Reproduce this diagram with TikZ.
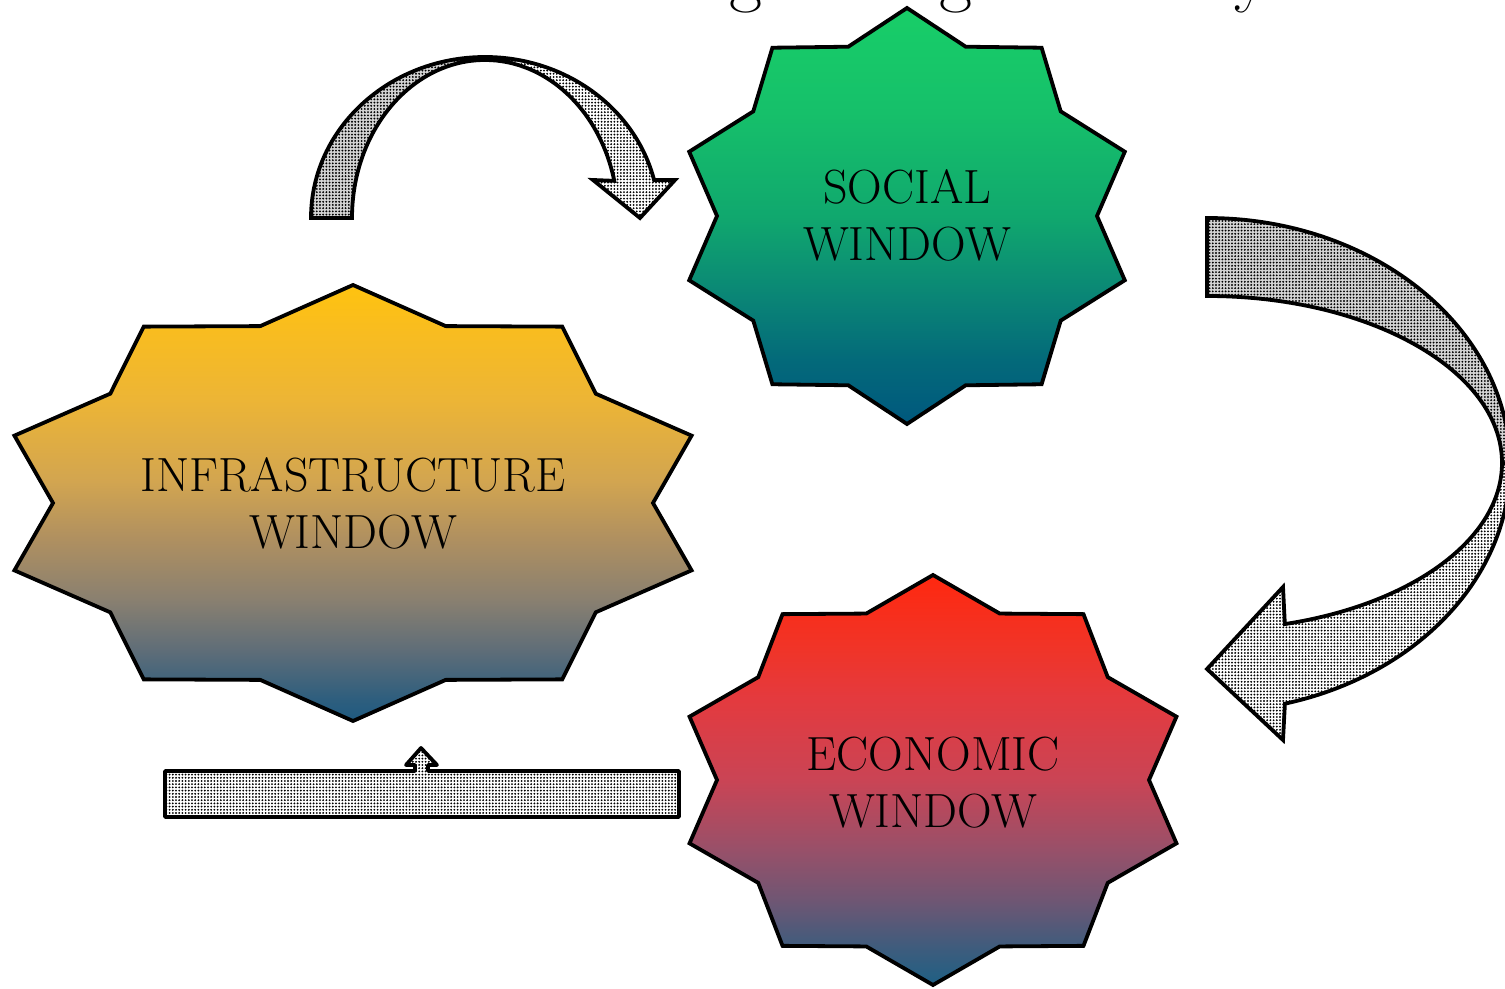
\documentclass[tikz,border=0pt]{standalone}
\usetikzlibrary{patterns.meta}
\pgfdeclareverticalshading{infshade}{100bp}{%
  rgb(0bp)=(.118,.353,.502); rgb(25bp)=(.118,.353,.502);
  rgb(27.5bp)=(.180,.369,.494); rgb(33bp)=(.369,.427,.471);
  rgb(39bp)=(.541,.502,.439); rgb(46bp)=(.690,.565,.376);
  rgb(52.5bp)=(.824,.647,.314); rgb(62bp)=(.929,.710,.208);
  rgb(70.3bp)=(.976,.741,.118); rgb(75bp)=(1,.765,.059);
  rgb(100bp)=(1,.765,.059)}
\pgfdeclareverticalshading{socshade}{100bp}{%
  rgb(0bp)=(0,.345,.494); rgb(25bp)=(0,.345,.494);
  rgb(32.5bp)=(.012,.412,.478); rgb(40bp)=(.039,.518,.463);
  rgb(50bp)=(.063,.659,.431); rgb(62.5bp)=(.086,.753,.416);
  rgb(75bp)=(.094,.808,.408); rgb(100bp)=(.094,.808,.408)}
\pgfdeclareverticalshading{ecoshade}{100bp}{%
  rgb(0bp)=(.118,.376,.518); rgb(25bp)=(.118,.376,.518);
  rgb(29.5bp)=(.243,.361,.490); rgb(35.5bp)=(.439,.337,.451);
  rgb(41.5bp)=(.596,.314,.412); rgb(50bp)=(.792,.267,.333);
  rgb(60bp)=(.894,.227,.243); rgb(66bp)=(.941,.204,.157);
  rgb(75bp)=(1,.157,.059); rgb(100bp)=(1,.157,.059)}
% ten-pointed star: #1 options, #2 cx, #3 cy, #4 Rx, #5 Ry, #6 rx, #7 ry
\newcommand{\tenstar}[7]{%
  \path[#1] ({#2},{#3-#5}) \foreach \a in {-90,-54,...,234}{
     -- ({#2+#6*cos(\a+18)},{#3+#7*sin(\a+18)})
     -- ({#2+#4*cos(\a+36)},{#3+#5*sin(\a+36)})} -- cycle;}
\tikzset{
  starline/.style={draw=black, line width=1.9pt},
  bandline/.style={draw=black, line width=1.9pt},
  darkband/.style={bandline, preaction={fill=black!17},
    pattern={Dots[distance=1.6pt,radius=0.52pt]}, pattern color=black},
  lightband/.style={bandline, preaction={fill=white},
    pattern={Dots[distance=1.6pt,radius=0.52pt]}, pattern color=black},
  lbl/.style={font=\fontsize{24}{28.5}\selectfont, align=center, inner sep=0pt, text=black},
  ttl/.style={font=\fontsize{36}{40}\selectfont, anchor=base, inner sep=0pt}
}
\begin{document}
\begin{tikzpicture}[x=0.5pt,y=-0.5pt]
\useasboundingbox (0,0) rectangle (1505,989);
\clip (0,0) rectangle (1505,989);
\fill[white] (0,0) rectangle (1505,989);

% fragments of the cut-off title
\node[ttl] (t1) at (746,-1) {g};
\node[ttl] (t2) at (956,-1) {g};
\node[ttl] (t3) at (1252,-1) {y};

% top curved arrow (infrastructure -> social)
\path[darkband] (311,218) arc[start angle=180, end angle=270, x radius=174, y radius=161]
   -- (485,60) arc[start angle=270, end angle=180, x radius=133, y radius=158] -- cycle;
\path[lightband] (485,57) arc[start angle=270, end angle=346.4, x radius=174, y radius=161]
   -- (675,180) -- (640,218) -- (593,180)
   -- ({485+133*cos(346.4)},{218+158*sin(346.4)})
   arc[start angle=346.4, end angle=270, x radius=133, y radius=158] -- cycle;

% right curved arrow (social -> economic)
\path[darkband] (1207,218) arc[start angle=-90, end angle=0, x radius=303, y radius=247]
   -- (1502,463) arc[start angle=0, end angle=-90, x radius=295, y radius=167] -- cycle;
\path[lightband] (1510,465) arc[start angle=0, end angle=75.1, x radius=303, y radius=247]
   -- (1283,740) -- (1207,669) -- (1283,587)
   -- ({1207+295*cos(74.7)},{463+167*sin(74.7)})
   arc[start angle=74.7, end angle=0, x radius=295, y radius=167] -- cycle;

% bottom bar arrow (economic -> infrastructure)
\path[lightband, line join=round] (165,771) -- (415,771) -- (415,765) -- (406,765)
   -- (421,748) -- (437,765) -- (428,765) -- (428,771) -- (679,771)
   -- (679,817) -- (165,817) -- cycle;

% stars
\tenstar{starline, shading=socshade}{907}{216}{229}{208}{190}{178}
\tenstar{starline, shading=infshade}{353}{503}{356}{218}{300}{186}
\tenstar{starline, shading=ecoshade}{933}{780}{256}{205}{216}{175}

\node[lbl] (social) at (907,215.5) {SOCIAL\\WINDOW};
\node[lbl] (infra) at (353,503.5) {INFRASTRUCTURE\\WINDOW};
\node[lbl] (econ) at (933,782.5) {ECONOMIC\\WINDOW};
\end{tikzpicture}
\end{document}
